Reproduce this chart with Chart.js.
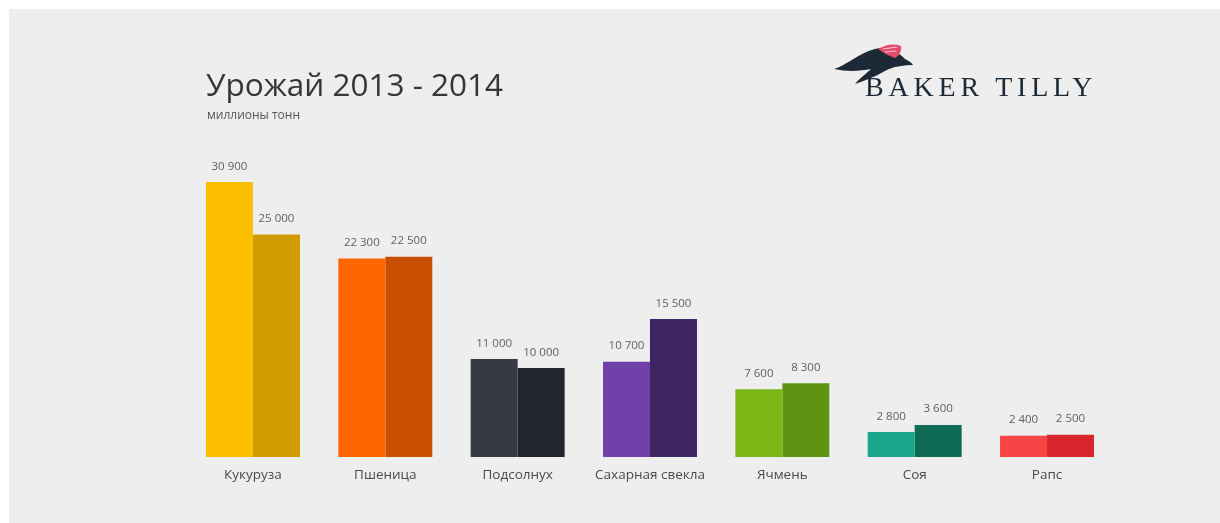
<!DOCTYPE html>
<html>
<head>
<meta charset="utf-8">
<script src="https://cdn.jsdelivr.net/npm/chart.js@4/dist/chart.umd.min.js"></script>
<style>
  html,body{margin:0;padding:0;background:#fff;width:1220px;height:523px;overflow:hidden;font-family:"Open Sans",sans-serif;}
  #panel{position:absolute;left:9px;top:9px;width:1211px;height:514px;background:#eeeeee;}
  #chart{position:absolute;left:0;top:0;}
  .title{position:absolute;left:197px;top:53px;font-size:31.5px;color:#363636;white-space:nowrap;}
  .sub{position:absolute;left:198px;top:97px;font-size:12px;color:#555;white-space:nowrap;}
  .brand{position:absolute;left:856px;top:62px;font-family:"Liberation Serif","DejaVu Serif",serif;font-size:28px;letter-spacing:4.8px;color:#1d2a36;white-space:nowrap;}
  #bird{position:absolute;left:0;top:0;}
</style>
</head>
<body>
<div id="panel">
  <canvas id="chart" width="1211" height="514"></canvas>
  <div class="title">Урожай 2013 - 2014</div>
  <div class="sub">миллионы тонн</div>
  <svg id="bird" width="1211" height="514">
    <path d="M825,60 C838,56 850,44 866,40 C878,37 888,42 896,50 C900,52 903,54 904,56 C896,56 888,57 880,60 C872,64 862,70 846,75 C852,68 858,64 862,60 C852,62 838,63 825,60 Z" fill="#1b2a36"/>
    <path d="M869,40 C876,36 884,34 892,37 C893,42 890,47 886,49 C880,47 874,44 869,40 Z" fill="#e44a6c"/>
    <path d="M874,40 L888,38 M876,43 L887,42" stroke="#f3c9d4" stroke-width="1" fill="none"/>
  </svg>
  <div class="brand">BAKER TILLY</div>
</div>
<script>
const categories = ['Кукуруза', 'Пшеница', 'Подсолнух', 'Сахарная свекла', 'Ячмень', 'Соя', 'Рапс'];
const values2013 = [30900, 22300, 11000, 10700, 7600, 2800, 2400];
const values2014 = [25000, 22500, 10000, 15500, 8300, 3600, 2500];
const colors2013 = ['#fdbe00', '#ff6600', '#363b43', '#6f41a9', '#7ab716', '#1ba58c', '#f54545'];
const colors2014 = ['#d19c00', '#c84f00', '#21262d', '#3f2561', '#5f9413', '#106b56', '#d8262f'];
const yMax = 40000;

const fmt = v => String(v).replace(/\B(?=(\d{3})+(?!\d))/g, ' ');

const labelsPlugin = {
  id: 'labels',
  afterDatasetsDraw(chart) {
    const ctx = chart.ctx;
    ctx.save();
    ctx.textAlign = 'center';
    ctx.textBaseline = 'bottom';
    ctx.font = '11.5px "Open Sans", sans-serif';
    ctx.fillStyle = '#606060';
    chart.data.datasets.forEach((ds, i) => {
      chart.getDatasetMeta(i).data.forEach((bar, j) => {
        ctx.fillText(fmt(ds.data[j]), bar.x, bar.y - 10);
      });
    });
    const x = chart.scales.x;
    ctx.font = '13.5px "Open Sans", sans-serif';
    ctx.fillStyle = '#4a4a4a';
    ctx.textBaseline = 'middle';
    categories.forEach((c, j) => {
      ctx.fillText(c, x.getPixelForValue(j), chart.chartArea.bottom + 18);
    });
    ctx.restore();
  }
};

new Chart(document.getElementById('chart'), {
  type: 'bar',
  data: {
    labels: categories,
    datasets: [
      { label: '2013', data: values2013, backgroundColor: colors2013, borderWidth: 0 },
      { label: '2014', data: values2014, backgroundColor: colors2014, borderWidth: 0 }
    ]
  },
  options: {
    responsive: false,
    animation: false,
    layout: { padding: { left: 177.8, right: 106.8, top: 92, bottom: 66 } },
    datasets: { bar: { categoryPercentage: 0.71, barPercentage: 1 } },
    plugins: { legend: { display: false }, tooltip: { enabled: false } },
    scales: {
      x: { display: false },
      y: { display: false, min: 0, max: yMax }
    }
  },
  plugins: [labelsPlugin]
});
</script>
</body>
</html>
